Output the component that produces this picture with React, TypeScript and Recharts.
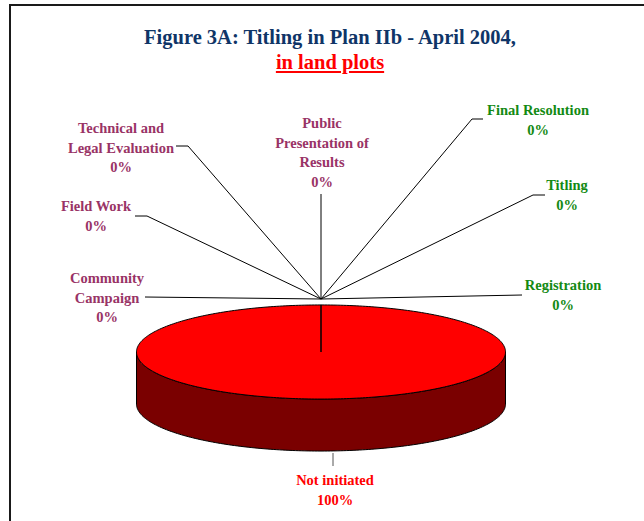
import React from 'react';
import { PieChart, Pie, Cell } from 'recharts';

// ---- data ----
const categories = [
  'Community Campaign',
  'Field Work',
  'Technical and Legal Evaluation',
  'Public Presentation of Results',
  'Final Resolution',
  'Titling',
  'Registration',
  'Not initiated',
];
const plotShares = [0, 0, 0, 0, 0, 0, 0, 100];
const labelText = [
  ['Community', 'Campaign'],
  ['Field Work'],
  ['Technical and', 'Legal Evaluation'],
  ['Public', 'Presentation of', 'Results'],
  ['Final Resolution'],
  ['Titling'],
  ['Registration'],
  ['Not initiated'],
];
const titleLine1 = 'Figure 3A: Titling in Plan IIb - April 2004,';
const titleLine2 = 'in land plots';

// ---- style ----
const sliceColors = ['#993366', '#993366', '#993366', '#993366', '#138a13', '#138a13', '#138a13', '#ff0000'];
const FONT = '"Liberation Serif", "Times New Roman", serif';
const TILT = 0.255;
const DEPTH = 52;
const LINE_H = 19.5;

// label layout (offsets from pie centre): leader-line points and first text line centre
const labelLayout = [
  { start: [0, -53], pts: [[-176, -55]], tx: -214, ty: -74 },
  { start: [0, -53], pts: [[-174, -136], [-186, -136]], tx: -225, ty: -146 },
  { start: [0, -53], pts: [[-133, -206], [-145, -206]], tx: -200, ty: -224 },
  { start: [0, -53], pts: [[0, -158]], tx: 1, ty: -229 },
  { start: [0, -53], pts: [[151, -233], [162, -233]], tx: 217, ty: -242 },
  { start: [0, -53], pts: [[212, -157], [224, -157]], tx: 246, ty: -167 },
  { start: [0, -53], pts: [[201, -57]], tx: 242, ty: -67 },
  { start: [12, 101], pts: [[12, 114]], tx: 14, ty: 128 },
];

const data = categories.map((name, i) => ({ name, value: plotShares[i] }));

function darken(hex: string, f: number) {
  const n = parseInt(hex.slice(1), 16);
  const r = Math.round(((n >> 16) & 255) * f);
  const g = Math.round(((n >> 8) & 255) * f);
  const b = Math.round((n & 255) * f);
  return `rgb(${r},${g},${b})`;
}

function Sector3D(props: any) {
  const { cx, cy, outerRadius, startAngle, endAngle, fill } = props;
  if (Math.abs(endAngle - startAngle) < 1e-6) return <g />;
  const rx = outerRadius;
  const ry = outerRadius * TILT;
  const steps = Math.max(2, Math.ceil(Math.abs(endAngle - startAngle)));
  const pts: { x: number; y: number; s: number }[] = [];
  for (let k = 0; k <= steps; k++) {
    const a = startAngle + ((endAngle - startAngle) * k) / steps;
    const rad = (a * Math.PI) / 180;
    pts.push({ x: cx + rx * Math.cos(rad), y: cy - ry * Math.sin(rad), s: Math.sin(rad) });
  }
  const runs: { x: number; y: number }[][] = [];
  let cur: { x: number; y: number }[] = [];
  pts.forEach((p) => {
    if (p.s <= 1e-9) cur.push(p);
    else if (cur.length) {
      runs.push(cur);
      cur = [];
    }
  });
  if (cur.length) runs.push(cur);
  const sidePaths = runs
    .filter((r) => r.length > 1)
    .map((r) => {
      const top = r.map((p, i) => `${i ? 'L' : 'M'}${p.x.toFixed(2)},${p.y.toFixed(2)}`).join(' ');
      const bottom = r
        .slice()
        .reverse()
        .map((p) => `L${p.x.toFixed(2)},${(p.y + DEPTH).toFixed(2)}`)
        .join(' ');
      return `${top} ${bottom} Z`;
    });
  const topPath =
    `M${cx},${cy} ` + pts.map((p) => `L${p.x.toFixed(2)},${p.y.toFixed(2)}`).join(' ') + ' Z';
  return (
    <g>
      {sidePaths.map((d, i) => (
        <path key={i} d={d} fill={darken(fill, 0.48)} stroke="#000" strokeWidth={1} />
      ))}
      <path d={topPath} fill={fill} stroke="#000" strokeWidth={1} />
    </g>
  );
}

function renderLabel(p: any) {
  const { cx, cy, index, percent } = p;
  const L = labelLayout[index];
  if (!L) return null;
  const sx = cx + L.start[0];
  const sy = cy + L.start[1];
  const d = `M${sx},${sy} ` + L.pts.map((q) => `L${cx + q[0]},${cy + q[1]}`).join(' ');
  const lines = [...labelText[index], `${Math.round((percent || 0) * 100)}%`];
  const color = sliceColors[index];
  return (
    <g key={`lbl-${index}`}>
      <path d={d} fill="none" stroke={index === 7 ? '#555' : '#000'} strokeWidth={1} />
      <text
        x={cx + L.tx}
        y={cy + L.ty}
        textAnchor="middle"
        fill={color}
        style={{ fontFamily: FONT, fontWeight: 'bold', fontSize: 14.5 }}
      >
        {lines.map((t, i) => (
          <tspan key={i} x={cx + L.tx} y={cy + L.ty + i * LINE_H} dominantBaseline="central">
            {t}
          </tspan>
        ))}
      </text>
    </g>
  );
}

export default function App() {
  return (
    <div style={{ position: 'absolute', left: 0, top: 0, width: 644, height: 521, background: '#fff', overflow: 'hidden' }}>
      <div
        style={{
          position: 'absolute',
          left: 9,
          top: 4,
          width: 700,
          height: 600,
          borderLeft: '2px solid #1a1a1a',
          borderTop: '2px solid #1a1a1a',
        }}
      />
      <div
        style={{
          position: 'absolute',
          left: 0,
          width: 660,
          top: 25,
          textAlign: 'center',
          fontFamily: FONT,
          fontWeight: 'bold',
          fontSize: 20.5,
          lineHeight: '25px',
          color: '#0f3567',
        }}
      >
        <div>{titleLine1}</div>
        <div style={{ color: '#ff0000', textDecoration: 'underline' }}>{titleLine2}</div>
      </div>
      <div style={{ position: 'absolute', left: 0, top: 0 }}>
        <PieChart width={644} height={521} margin={{ top: 0, right: 0, bottom: 0, left: 0 }}>
          <Pie
            data={data}
            dataKey="value"
            nameKey="name"
            cx={321}
            cy={352}
            innerRadius={0}
            outerRadius={184.5}
            startAngle={90}
            endAngle={-270}
            stroke="#000"
            label={renderLabel}
            labelLine={false}
            shape={Sector3D}
            isAnimationActive={false}
          >
            {data.map((d, i) => (
              <Cell key={d.name} fill={sliceColors[i]} />
            ))}
          </Pie>
        </PieChart>
      </div>
    </div>
  );
}
